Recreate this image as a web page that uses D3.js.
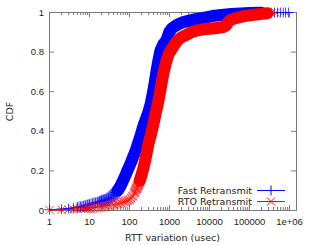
<!DOCTYPE html>
<html>
<head>
<meta charset="utf-8">
<script src="https://cdn.jsdelivr.net/npm/d3@7/dist/d3.min.js"></script>
<style>
  body { margin: 0; background: #fff; }
  svg { display: block; font-family: 'DejaVu Sans', sans-serif; }
</style>
</head>
<body>
<div id="chart"></div>
<script>
// tick values / labels
var xTicks = [1, 10, 100, 1000, 10000, 100000, 1000000];
var xTickLabels = ['1', '10', '100', '1000', '10000', '100000', '1e+06'];
var yTicks = [0, 0.2, 0.4, 0.6, 0.8, 1];
var yTickLabels = ['0', '0.2', '0.4', '0.6', '0.8', '1'];
var seriesNames = ['Fast Retransmit', 'RTO Retransmit'];

// Fast Retransmit: RTT variation (usec) and CDF
var fastX = [1, 2, 3, 4, 5, 6, 7, 8, 9, 10, 12, 14, 16, 18, 20, 23, 26, 30, 35, 40, 45, 50, 55, 60, 70,
    80, 90, 100, 110, 120, 135, 150, 170, 190, 210, 230, 260, 300, 340, 390, 430, 470, 530, 600, 700,
    840, 980, 1150, 1350, 1700, 2100, 3300, 5000, 8000, 12000, 20000, 35000, 60000, 100000, 200000,
    350000, 420000, 500000, 600000, 700000, 800000, 950000];
var fastCdf = [.004, .007, .01, .013, .016, .019, .022, .025, .028, .031, .035, .039, .042, .045, .048, .051, .054, .06, .068, .08, .09, .1, .112, .125, .154,
    .18, .205, .225, .245, .265, .29, .315, .35, .38, .41, .435, .465, .5, .54, .6, .65, .7, .76, .81, .84,
    .86, .9, .92, .93, .942, .95, .96, .968, .975, .982, .988, .992, .995, .997, .999,
    .9995, .9997, .9998, .9999, 1, 1, 1];

// RTO Retransmit: RTT variation (usec) and CDF
var rtoX = [1, 2, 3, 4, 5, 6, 7, 8, 9, 10, 12, 15, 20, 25, 30, 40, 50, 60, 70, 80, 90, 100, 110, 120,
    135, 150, 165, 180, 200, 220, 245, 275, 300, 330, 370, 410, 450, 500, 560, 630, 700, 780, 850, 950,
    1100, 1300, 1600, 2000, 2800, 3500, 5000, 7000, 10000, 15000, 22000, 26000, 29000, 32000, 38000,
    45000, 60000, 80000, 110000, 150000, 200000, 280000, 350000, 450000];
var rtoCdf = [.002, .004, .005, .006, .007, .008, .009, .01, .011, .012, .014, .016, .019, .022, .025, .03, .035, .04, .044, .047, .05, .054, .062, .072,
    .09, .11, .13, .15, .18, .21, .25, .3, .34, .37, .41, .45, .49, .53, .58, .64, .69, .73, .76, .79,
    .81, .835, .86, .875, .89, .9, .91, .915, .918, .922, .927, .935, .95, .96, .966,
    .972, .978, .983, .987, .99, .993, .996, .998, .999];

var blue = '#0000ff', red = '#ff0000', axisGrey = '#7a7a7a', textCol = '#222';

var svg = d3.select('#chart').append('svg')
    .attr('width', 314)
    .attr('height', 245);

var x = d3.scaleLog().domain([1, Math.pow(10, 6.175)]).range([49, 296]);
var y = d3.scaleLinear().domain([0, 1]).range([210, 12]);

// border
svg.append('rect')
    .attr('x', 49.5).attr('y', 12.5)
    .attr('width', 247).attr('height', 198)
    .attr('fill', 'none')
    .attr('stroke', axisGrey);

// minor log ticks
var minorTicks = [];
for (var p = 0; p < 7; p++) {
    for (var m = 2; m < 10; m++) {
        var v = m * Math.pow(10, p);
        if (v < x.domain()[1]) minorTicks.push(v);
    }
}

function styleAxis(g) {
    g.select('.domain').remove();
    g.selectAll('.tick line').attr('stroke', axisGrey);
    g.selectAll('.tick text').attr('fill', textCol).style('font-size', '9.5px');
}

svg.append('g').attr('transform', 'translate(0,210)')
    .call(d3.axisBottom(x).tickValues(xTicks).tickSizeInner(-5).tickSizeOuter(0).tickPadding(8)
        .tickFormat(function(d, i) { return xTickLabels[i]; }))
    .call(styleAxis);
svg.append('g').attr('transform', 'translate(0,210)')
    .call(d3.axisBottom(x).tickValues(minorTicks).tickSizeInner(-3).tickSizeOuter(0).tickFormat(''))
    .call(styleAxis);
svg.append('g').attr('transform', 'translate(0,12)')
    .call(d3.axisTop(x).tickValues(xTicks).tickSizeInner(-5).tickSizeOuter(0).tickFormat(''))
    .call(styleAxis);
svg.append('g').attr('transform', 'translate(0,12)')
    .call(d3.axisTop(x).tickValues(minorTicks).tickSizeInner(-3).tickSizeOuter(0).tickFormat(''))
    .call(styleAxis);
svg.append('g').attr('transform', 'translate(49,0)')
    .call(d3.axisLeft(y).tickValues(yTicks).tickSizeInner(-5).tickSizeOuter(0).tickPadding(5)
        .tickFormat(function(d, i) { return yTickLabels[i]; }))
    .call(styleAxis);
svg.append('g').attr('transform', 'translate(296,0)')
    .call(d3.axisRight(y).tickValues(yTicks).tickSizeInner(-5).tickSizeOuter(0).tickFormat(''))
    .call(styleAxis);

// axis titles
svg.append('text')
    .attr('transform', 'translate(13,111.5) rotate(-90)')
    .attr('text-anchor', 'middle')
    .attr('fill', textCol)
    .style('font-size', '9.5px')
    .text('CDF');
svg.append('text')
    .attr('x', 172.5).attr('y', 241)
    .attr('text-anchor', 'middle')
    .attr('fill', textCol)
    .style('font-size', '9.5px')
    .text('RTT variation (usec)');

var plusPath = 'M-5,0H5M0,-5V5';
var crossPath = 'M-4,-4L4,4M-4,4L4,-4';

var series = [
    { xs: fastX, cs: fastCdf, color: blue, marker: plusPath, lightFrom: 6, solidFrom: 0.1, solidTo: 200000 },
    { xs: rtoX, cs: rtoCdf, color: red, marker: crossPath, lightFrom: 10, solidFrom: 0.15, solidTo: 300000 }
];

var line = d3.line()
    .x(function(d) { return x(d.x) + 0.5; })
    .y(function(d) { return y(d.c) + 0.5; });

function band(g, pts, color, width, opacity) {
    g.append('path').attr('d', line(pts))
        .attr('fill', 'none').attr('stroke', color).attr('stroke-opacity', opacity)
        .attr('stroke-width', width).attr('stroke-linejoin', 'round').attr('stroke-linecap', 'round');
}

series.forEach(function(s) {
    var pts = s.xs.map(function(v, i) { return { x: v, c: s.cs[i] }; });
    var g = svg.append('g');

    // the dense mass of markers in the original is drawn as a wide stroke,
    // paler where the markers thin out
    band(g, pts.filter(function(d) { return d.x >= s.lightFrom && d.c <= s.solidFrom + 0.03; }), s.color, 11, 0.35);
    band(g, pts.filter(function(d) { return d.c >= s.solidFrom - 0.05 && d.c <= s.solidFrom + 0.03; }), s.color, 12, 0.45);
    band(g, pts.filter(function(d) { return d.c >= s.solidFrom && d.x <= s.solidTo; }), s.color, 12, 1);

    g.append('path').attr('d', line(pts))
        .attr('fill', 'none').attr('stroke', s.color).attr('stroke-width', 1);

    g.selectAll('path.pt').data(pts).enter().append('path')
        .attr('class', 'pt')
        .attr('d', s.marker)
        .attr('transform', function(d) { return 'translate(' + (x(d.x) + 0.5) + ',' + (y(d.c) + 0.5) + ')'; })
        .attr('fill', 'none')
        .attr('stroke', s.color)
        .attr('stroke-opacity', 0.75)
        .attr('stroke-width', 1);
});

// legend
var legend = svg.append('g');
series.forEach(function(s, i) {
    var ly = 190.5 + i * 11;
    legend.append('text')
        .attr('x', 252).attr('y', ly + 3.5)
        .attr('text-anchor', 'end')
        .attr('fill', textCol)
        .style('font-size', '9.5px')
        .text(seriesNames[i]);
    legend.append('line')
        .attr('x1', 257).attr('x2', 285)
        .attr('y1', ly).attr('y2', ly)
        .attr('stroke', s.color).attr('stroke-width', 1);
    legend.append('path')
        .attr('d', s.marker)
        .attr('transform', 'translate(271,' + ly + ')')
        .attr('fill', 'none')
        .attr('stroke', s.color)
        .attr('stroke-width', 1);
});
</script>
</body>
</html>
